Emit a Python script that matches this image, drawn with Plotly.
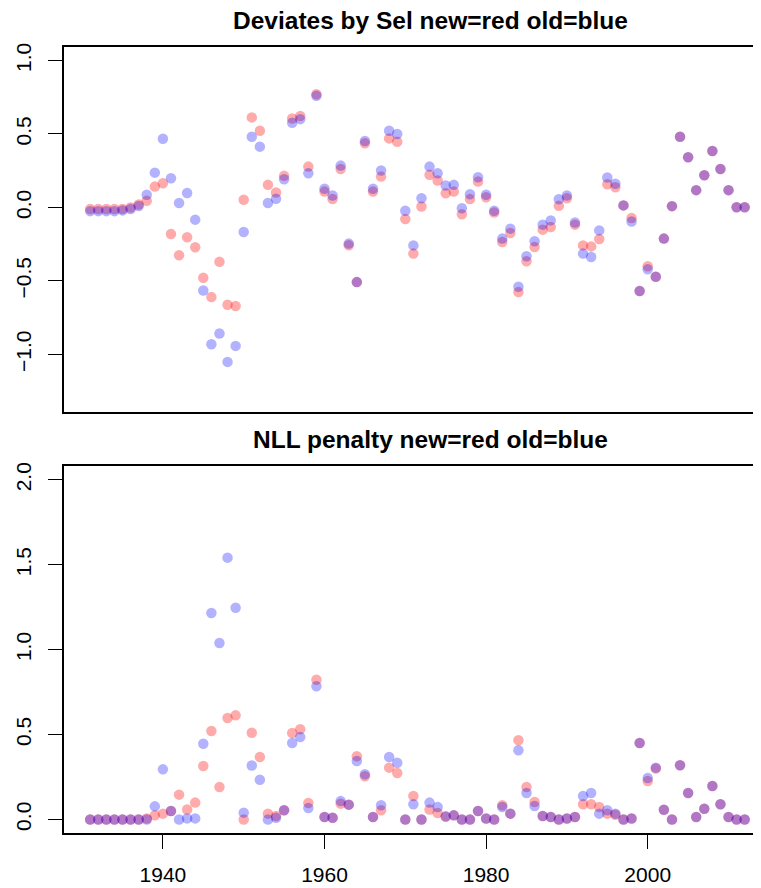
import plotly.graph_objects as go

years = list(range(1931, 2013))

dev_new = [-0.01, -0.01, -0.01, -0.01, -0.01, 0.00, 0.02, 0.045, 0.142, 0.165,
           -0.18, -0.325, -0.203, -0.271, -0.479, -0.61, -0.37, -0.662, -0.67, 0.052,
           0.613, 0.522, 0.154, 0.102, 0.215, 0.606, 0.622, 0.278, 0.77, 0.108,
           0.057, 0.262, -0.257, -0.508, 0.437, 0.108, 0.21, 0.47, 0.447, -0.079,
           -0.314, 0.007, 0.222, 0.184, 0.097, 0.108, -0.046, 0.057, 0.176, 0.07,
           -0.034, -0.235, -0.174, -0.576, -0.366, -0.269, -0.151, -0.133, 0.011, 0.063,
           -0.117, -0.258, -0.265, -0.215, 0.158, 0.138, 0.014, -0.072, -0.569, -0.40,
           -0.472, -0.212, 0.009, 0.481, 0.342, 0.118, 0.219, 0.384, 0.262, 0.118,
           0.002, 0.002]

dev_old = [-0.025, -0.025, -0.025, -0.025, -0.02, -0.01, 0.01, 0.086, 0.237, 0.468,
           0.199, 0.03, 0.098, -0.083, -0.565, -0.931, -0.858, -1.051, -0.942, -0.167,
           0.481, 0.414, 0.03, 0.059, 0.192, 0.577, 0.601, 0.233, 0.76, 0.127,
           0.081, 0.285, -0.246, -0.508, 0.452, 0.127, 0.251, 0.522, 0.50, -0.022,
           -0.258, 0.063, 0.278, 0.233, 0.149, 0.154, -0.005, 0.09, 0.206, 0.086,
           -0.022, -0.212, -0.144, -0.54, -0.332, -0.23, -0.117, -0.088, 0.056, 0.081,
           -0.102, -0.314, -0.337, -0.156, 0.204, 0.161, 0.014, -0.095, -0.569, -0.42,
           -0.472, -0.212, 0.009, 0.481, 0.342, 0.118, 0.219, 0.384, 0.262, 0.118,
           0.002, 0.002]

nll_new = [0.0, 0.0, 0.0, 0.0, 0.0, 0.0, 0.0, 0.005, 0.024, 0.034,
           0.05, 0.146, 0.058, 0.099, 0.315, 0.521, 0.191, 0.597, 0.613, 0.0,
           0.511, 0.368, 0.034, 0.02, 0.054, 0.509, 0.531, 0.097, 0.823, 0.014,
           0.01, 0.093, 0.087, 0.372, 0.254, 0.014, 0.054, 0.305, 0.273, 0.0,
           0.138, 0.0, 0.058, 0.038, 0.015, 0.024, 0.0, 0.0, 0.05, 0.005,
           0.0, 0.083, 0.034, 0.466, 0.191, 0.103, 0.02, 0.014, 0.0, 0.005,
           0.014, 0.089, 0.089, 0.073, 0.034, 0.028, 0.0, 0.005, 0.45, 0.226,
           0.30, 0.057, 0.0, 0.319, 0.156, 0.014, 0.063, 0.197, 0.089, 0.014,
           0.0, 0.0]

nll_old = [0.0, 0.0, 0.0, 0.0, 0.0, 0.0, 0.0, 0.0, 0.077, 0.295,
           0.05, 0.0, 0.006, 0.006, 0.446, 1.216, 1.039, 1.542, 1.247, 0.04,
           0.318, 0.234, 0.0, 0.01, 0.054, 0.45, 0.485, 0.067, 0.784, 0.014,
           0.01, 0.108, 0.087, 0.344, 0.266, 0.014, 0.083, 0.368, 0.334, 0.0,
           0.089, 0.0, 0.099, 0.073, 0.018, 0.024, 0.0, 0.0, 0.05, 0.005,
           0.0, 0.073, 0.034, 0.407, 0.156, 0.079, 0.02, 0.014, 0.0, 0.005,
           0.014, 0.138, 0.156, 0.034, 0.054, 0.034, 0.0, 0.005, 0.45, 0.244,
           0.305, 0.057, 0.0, 0.319, 0.156, 0.014, 0.063, 0.197, 0.089, 0.014,
           0.0, 0.0]

titles = ["Deviates by Sel new=red old=blue", "NLL penalty new=red old=blue"]
top_ticks = [-1.0, -0.5, 0.0, 0.5, 1.0]
bot_ticks = [0.0, 0.5, 1.0, 1.5, 2.0]
x_ticks = [1940, 1960, 1980, 2000]

RED = "rgba(255,0,0,0.33)"
BLUE = "rgba(0,0,255,0.30)"
MS = 10.5
FONT = "Liberation Sans, Arial, sans-serif"

fig = go.Figure()
fig.add_trace(go.Scatter(x=years, y=dev_new, mode="markers",
                         marker=dict(color=RED, size=MS, line=dict(width=0)),
                         xaxis="x", yaxis="y", showlegend=False))
fig.add_trace(go.Scatter(x=years, y=dev_old, mode="markers",
                         marker=dict(color=BLUE, size=MS, line=dict(width=0)),
                         xaxis="x", yaxis="y", showlegend=False))
fig.add_trace(go.Scatter(x=years, y=nll_new, mode="markers",
                         marker=dict(color=RED, size=MS, line=dict(width=0)),
                         xaxis="x2", yaxis="y2", showlegend=False))
fig.add_trace(go.Scatter(x=years, y=nll_old, mode="markers",
                         marker=dict(color=BLUE, size=MS, line=dict(width=0)),
                         xaxis="x2", yaxis="y2", showlegend=False))

xr = [1927.76, 2014.02]
common_y = dict(showgrid=False, zeroline=False, showline=True, linecolor="black",
                linewidth=1.8, ticks="outside", ticklen=14, tickwidth=1.3,
                tickcolor="black", tickangle=-90, tickformat=".1f",
                ticklabelstandoff=9,
                tickfont=dict(family=FONT, size=21, color="black"))

fig.update_layout(
    width=753, height=880,
    margin=dict(l=56, r=0, t=39, b=55),
    paper_bgcolor="white", plot_bgcolor="white",
    xaxis=dict(domain=[0, 1], range=xr, anchor="y", showgrid=False, zeroline=False,
               showline=True, mirror=True, linecolor="black", linewidth=1.8,
               showticklabels=False, ticks=""),
    yaxis=dict(domain=[0.5356, 1.0], range=[-1.392, 1.092], anchor="x",
               tickvals=top_ticks, **common_y),
    xaxis2=dict(domain=[0, 1], range=xr, anchor="y2", showgrid=False, zeroline=False,
                showline=True, mirror=True, linecolor="black", linewidth=1.8,
                ticks="outside", ticklen=14, tickwidth=1.3, tickcolor="black",
                tickvals=x_ticks, ticklabelstandoff=8,
                tickfont=dict(family=FONT, size=21, color="black")),
    yaxis2=dict(domain=[0.0, 0.4665], range=[-0.08, 2.08], anchor="x2",
                tickvals=bot_ticks, **common_y),
)

xc = (430 - 64) / 697
fig.add_annotation(text="<b>" + titles[0] + "</b>", xref="paper", yref="paper",
                   x=xc, y=1.0, yshift=27, showarrow=False,
                   font=dict(family=FONT, size=24.5, color="black"),
                   xanchor="center", yanchor="middle")
fig.add_annotation(text="<b>" + titles[1] + "</b>", xref="paper", yref="paper",
                   x=xc, y=0.4665, yshift=27, showarrow=False,
                   font=dict(family=FONT, size=24.5, color="black"),
                   xanchor="center", yanchor="middle")

fig.write_html("out.html")
